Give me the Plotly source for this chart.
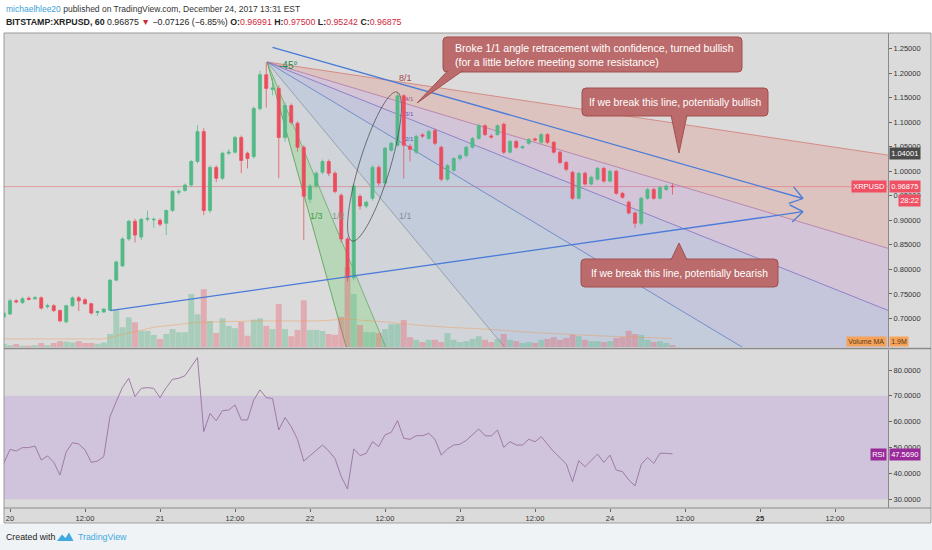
import numpy as np
import plotly.graph_objects as go

# one candle per hour, hour 0 = Dec 20 00:00
HOURS = list(range(-1, 107))

OPEN = [0.703, 0.709, 0.736, 0.732, 0.741, 0.740, 0.742, 0.724, 0.726, 0.716,
        0.693, 0.726, 0.742, 0.738, 0.730, 0.712, 0.713, 0.717, 0.778, 0.807,
        0.862, 0.898, 0.866, 0.902, 0.901, 0.900, 0.894, 0.920, 0.957, 0.961,
        0.972, 1.020, 1.081, 0.920, 1.008, 0.986, 1.037, 1.039, 1.069, 1.037,
        1.030, 1.128, 1.197, 1.167, 1.169, 1.069, 1.134, 1.098, 1.049, 0.943,
        0.970, 0.998, 1.020, 0.996, 0.951, 0.862, 0.783, 0.949, 0.929, 0.945,
        1.008, 0.976, 1.043, 1.053, 1.154, 1.051, 1.039, 1.074, 1.067, 1.083,
        1.049, 0.984, 1.002, 1.026, 1.032, 1.049, 1.067, 1.093, 1.072, 1.075,
        1.096, 1.039, 1.061, 1.048, 1.057, 1.066, 1.059, 1.075, 1.059, 1.039,
        1.018, 0.998, 0.945, 0.996, 0.974, 0.984, 1.006, 0.980, 1.000, 0.955,
        0.937, 0.915, 0.894, 0.945, 0.963, 0.945, 0.963, 0.96991]
HIGH = [0.714, 0.740, 0.739, 0.744, 0.745, 0.746, 0.745, 0.730, 0.729, 0.718,
        0.728, 0.745, 0.746, 0.741, 0.732, 0.716, 0.721, 0.780, 0.818, 0.866,
        0.901, 0.903, 0.905, 0.920, 0.906, 0.904, 0.922, 0.962, 0.963, 0.975,
        1.023, 1.094, 1.088, 1.012, 1.012, 1.040, 1.045, 1.072, 1.073, 1.040,
        1.132, 1.205, 1.222, 1.190, 1.175, 1.140, 1.138, 1.102, 1.053, 0.974,
        1.000, 1.024, 1.024, 1.000, 0.955, 0.866, 0.975, 0.953, 0.940, 1.012,
        1.012, 1.050, 1.060, 1.160, 1.157, 1.055, 1.075, 1.078, 1.085, 1.087,
        1.052, 1.015, 1.029, 1.035, 1.052, 1.070, 1.097, 1.096, 1.076, 1.096,
        1.099, 1.064, 1.064, 1.053, 1.068, 1.069, 1.078, 1.078, 1.062, 1.042,
        1.021, 1.001, 0.999, 0.999, 0.991, 1.009, 1.009, 1.003, 1.003, 0.958,
        0.940, 0.918, 0.948, 0.966, 0.966, 0.970, 0.973, 0.97500]
LOW = [0.700, 0.707, 0.731, 0.730, 0.737, 0.738, 0.718, 0.720, 0.713, 0.692,
       0.690, 0.724, 0.715, 0.728, 0.708, 0.705, 0.711, 0.715, 0.776, 0.805,
       0.858, 0.855, 0.860, 0.898, 0.885, 0.888, 0.870, 0.917, 0.952, 0.958,
       0.968, 1.016, 0.911, 0.915, 0.978, 0.982, 1.033, 1.036, 0.996, 1.006,
       1.026, 1.124, 1.130, 1.155, 0.986, 1.060, 1.095, 1.040, 0.860, 0.935,
       0.965, 0.994, 0.990, 0.955, 0.855, 0.775, 0.778, 0.922, 0.925, 0.940,
       0.970, 0.972, 1.040, 1.050, 0.985, 1.020, 1.035, 1.068, 1.064, 1.053,
       0.980, 0.980, 0.999, 1.022, 1.029, 1.046, 1.064, 1.072, 1.066, 1.072,
       1.035, 1.036, 1.046, 1.045, 1.054, 1.061, 1.056, 1.056, 1.036, 1.015,
       1.000, 0.942, 0.942, 0.971, 0.971, 0.981, 0.977, 0.977, 0.952, 0.944,
       0.912, 0.885, 0.890, 0.942, 0.942, 0.942, 0.960, 0.95242]
CLOSE = [0.711, 0.736, 0.734, 0.740, 0.739, 0.742, 0.721, 0.726, 0.716, 0.695,
         0.726, 0.742, 0.736, 0.730, 0.711, 0.714, 0.719, 0.778, 0.815, 0.862,
         0.898, 0.870, 0.902, 0.904, 0.902, 0.892, 0.920, 0.959, 0.959, 0.972,
         1.020, 1.081, 0.920, 1.008, 0.986, 1.037, 1.039, 1.069, 1.022, 1.026,
         1.128, 1.197, 1.169, 1.170, 1.069, 1.134, 1.100, 1.049, 0.949, 0.970,
         0.996, 1.020, 0.996, 0.959, 0.862, 0.783, 0.970, 0.929, 0.937, 1.008,
         0.976, 1.047, 1.057, 1.154, 1.053, 1.045, 1.071, 1.072, 1.081, 1.057,
         0.984, 1.012, 1.026, 1.032, 1.049, 1.067, 1.093, 1.075, 1.070, 1.093,
         1.039, 1.061, 1.049, 1.050, 1.065, 1.064, 1.075, 1.059, 1.039, 1.018,
         1.004, 0.945, 0.996, 0.974, 0.988, 1.006, 0.980, 1.000, 0.955, 0.947,
         0.915, 0.894, 0.945, 0.963, 0.945, 0.967, 0.970, 0.96875]

# volume in millions XRP
VOLUME_M = [0.7, 0.4, 0.7, 0.3, 0.3, 0.4, 0.9, 0.4, 0.9, 1.3,
            1.2, 1.0, 1.3, 0.9, 0.9, 0.7, 1.0, 2.9, 8.4, 4.4,
            6.6, 5.5, 3.6, 3.6, 2.7, 1.8, 2.9, 4.0, 3.3, 3.3,
            11.8, 7.3, 12.9, 5.8, 3.1, 6.4, 4.7, 4.2, 5.6, 2.5,
            6.1, 6.4, 4.7, 4.0, 9.6, 4.0, 2.4, 3.8, 10.4, 3.8,
            3.8, 3.6, 2.9, 2.7, 6.7, 17.8, 11.8, 4.9, 3.3, 3.3,
            3.1, 4.0, 5.1, 5.1, 6.0, 2.2, 1.6, 1.1, 1.6, 1.6,
            1.1, 3.1, 1.6, 1.1, 1.3, 1.8, 2.4, 1.6, 1.1, 1.8,
            2.9, 1.6, 1.3, 0.9, 1.1, 0.9, 1.6, 1.8, 2.2, 1.6,
            2.0, 2.7, 2.4, 1.6, 1.3, 1.3, 1.1, 1.3, 2.0, 2.2,
            3.6, 2.9, 2.7, 1.6, 1.1, 1.3, 0.9, 0.4]
VOL_MA_HOURS = [-1, 15, 23, 30, 39, 49, 54, 60, 65, 70, 76, 84, 94, 106]
VOL_MA = [1.8, 1.8, 4.4, 5.5, 5.8, 5.8, 6.2, 5.6, 4.9, 4.4, 4.0, 3.2, 2.5, 1.9]

RSI = [43.9, 49.3, 48.7, 50.0, 50.0, 50.6, 45.2, 46.8, 44.3, 39.4,
       48.4, 51.9, 51.4, 49.1, 44.3, 44.8, 46.5, 62.0, 67.8, 73.3,
       76.8, 69.7, 72.9, 73.2, 72.9, 69.3, 73.2, 76.4, 76.8, 77.8,
       81.3, 84.8, 56.2, 63.2, 60.4, 64.3, 64.5, 66.5, 60.7, 60.7,
       68.4, 72.3, 69.3, 69.0, 56.8, 61.6, 58.1, 53.2, 44.8, 46.8,
       49.1, 51.0, 48.7, 45.8, 38.8, 34.0, 49.5, 46.9, 47.8, 52.3,
       50.4, 54.9, 55.9, 60.4, 53.6, 53.2, 54.6, 54.6, 55.5, 53.2,
       47.1, 49.5, 51.0, 51.3, 52.8, 55.1, 57.2, 54.6, 54.5, 56.8,
       50.1, 52.3, 51.0, 51.0, 53.2, 52.3, 54.2, 51.3, 48.4, 46.1,
       43.7, 36.8, 44.9, 42.6, 45.2, 47.5, 44.3, 47.1, 41.3, 40.7,
       37.5, 35.2, 43.5, 46.2, 43.9, 47.8, 47.8, 47.569]

TICK_HOURS = [0, 12, 24, 36, 48, 60, 72, 84, 96, 108, 120, 132]
TICK_TEXT = ["20", "12:00", "21", "12:00", "22", "12:00", "23", "12:00",
             "24", "12:00", "<b>25</b>", "12:00"]
PRICE_TICKS = [0.70, 0.75, 0.80, 0.85, 0.90, 0.95, 1.00, 1.05, 1.10, 1.15, 1.20, 1.25]
RSI_TICKS = [30, 40, 50, 60, 70, 80]

GREEN = "#53b987"
RED = "#eb4d5c"
FONT = "Liberation Sans"


# screen pixel -> chart / paper coordinates (932x550 page)
def hx(px):
    return (px - 10) / 6.25


def pr(py):
    return 1 + (171.3 - py) / 490.4


def fx(px):
    return (px - 4) / 884


def fy(py):
    return (508 - py) / 475


X_RANGE = [hx(4), hx(888)]

fig = go.Figure()

vol_colors = ["rgba(83,185,135,0.38)" if c >= o else "rgba(235,77,92,0.33)"
              for o, c in zip(OPEN, CLOSE)]
fig.add_trace(go.Bar(x=HOURS, y=VOLUME_M, marker_color=vol_colors,
                     marker_line_width=0, xaxis="x", yaxis="y",
                     showlegend=False, hoverinfo="skip"))
fig.add_trace(go.Scatter(x=VOL_MA_HOURS, y=VOL_MA, mode="lines",
                         line=dict(color="rgba(240,150,80,0.5)", width=0.9),
                         xaxis="x", yaxis="y", showlegend=False))
fig.add_trace(go.Candlestick(
    x=HOURS, open=OPEN, high=HIGH, low=LOW, close=CLOSE,
    xaxis="x", yaxis="y3", showlegend=False,
    increasing=dict(line=dict(color="rgba(83,185,135,0.75)", width=1), fillcolor=GREEN),
    decreasing=dict(line=dict(color="rgba(235,77,92,0.75)", width=1), fillcolor=RED)))
fig.add_trace(go.Scatter(x=HOURS, y=RSI, mode="lines", xaxis="x2", yaxis="y2",
                         line=dict(color="#9a72a0", width=0.9), showlegend=False))

shapes = []

# chart frame and page strips
shapes.append(dict(type="rect", xref="paper", yref="paper", layer="below",
                   x0=fx(4), x1=fx(931), y0=fy(523), y1=fy(33),
                   fillcolor="#dbdbdb", line=dict(color="#9a9a9a", width=1)))
shapes.append(dict(type="rect", xref="paper", yref="paper", layer="below",
                   x0=fx(-2), x1=fx(934), y0=fy(551), y1=fy(524),
                   fillcolor="#eff3f6", line=dict(width=0)))
shapes.append(dict(type="line", xref="paper", yref="paper", layer="above",
                   x0=fx(4), x1=fx(931), y0=fy(348.5), y1=fy(348.5),
                   line=dict(color="#8a8a8a", width=1.5)))
shapes.append(dict(type="line", xref="paper", yref="paper", layer="above",
                   x0=fx(4), x1=fx(931), y0=fy(508), y1=fy(508),
                   line=dict(color="#8a8a8a", width=1)))

# RSI 30-70 band
shapes.append(dict(type="rect", xref="paper", yref="y2", layer="below",
                   x0=0, x1=1, y0=30, y1=70,
                   fillcolor="rgba(160,105,220,0.2)", line=dict(width=0)))

# Gann fan
g_h0, g_p0 = hx(267), pr(62)
g_unit = 1.2 * 6.25 / 490.4
h_far = 400
rays = [1 / 8, 1 / 4, 1 / 3, 1 / 2, 1, 2, 3]
ray_lines = ["#d07a72", "#b27aa8", "#7e72c2", "#5f7fc4", "#8a96a6", "#6aa86a", "#4fa04f"]
ray_fills = ["rgba(230,120,110,0.24)", "rgba(180,115,205,0.22)", "rgba(120,120,225,0.22)",
             "rgba(105,150,215,0.22)", "rgba(150,170,195,0.14)", "rgba(80,200,80,0.25)"]


def ray_end(r):
    return h_far, g_p0 - r * g_unit * (h_far - g_h0)


for i in range(len(rays) - 1):
    a, b = ray_end(rays[i]), ray_end(rays[i + 1])
    shapes.append(dict(type="path", xref="x", yref="y3", layer="below",
                       path=f"M {g_h0},{g_p0} L {a[0]},{a[1]} L {b[0]},{b[1]} Z",
                       fillcolor=ray_fills[i], line=dict(width=0)))
for r, col in zip(rays, ray_lines):
    e = ray_end(r)
    shapes.append(dict(type="line", xref="x", yref="y3", layer="below",
                       x0=g_h0, y0=g_p0, x1=e[0], y1=e[1],
                       line=dict(color=col, width=0.8)))

# last price line
shapes.append(dict(type="line", xref="paper", yref="y3", layer="below",
                   x0=0, x1=1, y0=CLOSE[-1], y1=CLOSE[-1],
                   line=dict(color="rgba(235,77,92,0.45)", width=1)))

# trend lines with open arrow heads
BLUE = "#4a7bd8"
for p0, p1, arms in [((272.5, 47.3), (803, 198.5), [(788.8, 203.3), (793.6, 186.8)]),
                     ((110, 310.7), (803, 211.7), [(792.1, 222.0), (789.6, 204.9)])]:
    shapes.append(dict(type="line", xref="x", yref="y3", layer="above",
                       x0=hx(p0[0]), y0=pr(p0[1]), x1=hx(p1[0]), y1=pr(p1[1]),
                       line=dict(color=BLUE, width=1.3)))
    for ax_, ay_ in arms:
        shapes.append(dict(type="line", xref="paper", yref="paper", layer="above",
                           x0=fx(p1[0]), y0=fy(p1[1]), x1=fx(ax_), y1=fy(ay_),
                           line=dict(color=BLUE, width=1.3)))

# hand drawn ellipse around the rebound
t = np.linspace(0, 2 * np.pi, 73)
cx, cy, sa, sb, ux, uy = 374.5, 166.5, 77.8, 15.5, 0.289, -0.957
ex = cx + sa * np.cos(t) * ux - sb * np.sin(t) * uy
ey = cy + sa * np.cos(t) * uy + sb * np.sin(t) * ux
ell = "M " + " L ".join(f"{fx(a):.5f},{fy(b):.5f}" for a, b in zip(ex, ey)) + " Z"
shapes.append(dict(type="path", xref="paper", yref="paper", layer="above",
                   path=ell, line=dict(color="#444444", width=0.7)))

# callouts
BOX_FILL, BOX_LINE = "#bb6b6b", "#a14f4f"


def rounded_box(x0, y0, x1, y1, r=4):
    return (f"M {fx(x0 + r)},{fy(y0)} L {fx(x1 - r)},{fy(y0)} "
            f"Q {fx(x1)},{fy(y0)} {fx(x1)},{fy(y0 + r)} L {fx(x1)},{fy(y1 - r)} "
            f"Q {fx(x1)},{fy(y1)} {fx(x1 - r)},{fy(y1)} L {fx(x0 + r)},{fy(y1)} "
            f"Q {fx(x0)},{fy(y1)} {fx(x0)},{fy(y1 - r)} L {fx(x0)},{fy(y0 + r)} "
            f"Q {fx(x0)},{fy(y0)} {fx(x0 + r)},{fy(y0)} Z")


callouts = [((443, 37, 742, 72), ((448, 70.5), (417, 103), (463, 70.5))),
            ((582, 88, 768, 116), ((671, 115), (679, 153), (687, 115))),
            ((581, 259, 778, 287), ((671, 260), (679, 243), (687, 260)))]
for box, tri in callouts:
    shapes.append(dict(type="path", xref="paper", yref="paper", layer="above",
                       path=rounded_box(*box), fillcolor=BOX_FILL,
                       line=dict(color=BOX_LINE, width=1)))
    tri_path = "M " + " L ".join(f"{fx(a)},{fy(b)}" for a, b in tri)
    shapes.append(dict(type="path", xref="paper", yref="paper", layer="above",
                       path=tri_path, fillcolor=BOX_FILL,
                       line=dict(color=BOX_LINE, width=1)))

# TradingView logo
shapes.append(dict(type="path", xref="paper", yref="paper", layer="above",
                   path=(f"M {fx(57)},{fy(541)} L {fx(62)},{fy(534.5)} L {fx(65.5)},{fy(538)} "
                         f"L {fx(69)},{fy(532.5)} L {fx(73.5)},{fy(541)} Z"),
                   fillcolor="#3fa9e0", line=dict(width=0)))

ann = []


def label(px, py, text, size=9, color="#333", xanchor="left", **kw):
    ann.append(dict(xref="paper", yref="paper", x=fx(px), y=fy(py), text=text,
                    showarrow=False, xanchor=xanchor, yanchor="middle",
                    font=dict(family=FONT, size=size, color=color), **kw))


R = "#d0283a"
label(4, 8.5, "<span style='color:#3d9fd6'>michaelhlee20</span> published on "
      "TradingView.com, December 24, 2017 13:31 EST", size=8.5)
label(4, 22, "<b>BITSTAMP:XRPUSD, 60</b> 0.96875 "
      f"<span style='color:{R}'>▼</span> −0.07126 (−6.85%) "
      f"<b>O:</b><span style='color:{R}'>0.96991</span> "
      f"<b>H:</b><span style='color:{R}'>0.97500</span> "
      f"<b>L:</b><span style='color:{R}'>0.95242</span> "
      f"<b>C:</b><span style='color:{R}'>0.96875</span>", size=8.8, color="#222")

label(453, 54.5, "Broke 1/1 angle retracement with confidence, turned bullish<br>"
      "(for a little before meeting some resistance)", size=10.6, color="white", align="left")
label(675, 102, "If we break this line, potentially bullish", size=10.3,
      color="white", xanchor="center")
label(679.5, 273, "If we break this line, potentially bearish", size=10.3,
      color="white", xanchor="center")

# fan labels
label(288, 65, "-45°", size=10, color="#1f8a4f", xanchor="center")
label(405, 78, "8/1", size=9, color="#a84848", xanchor="center")
label(409, 99, "4/1", size=6, color="#a0508a", xanchor="center")
label(409, 114, "3/1", size=6, color="#6a50b0", xanchor="center")
label(409, 139, "2/1", size=6, color="#4060b0", xanchor="center")
label(405, 216, "1/1", size=9, color="#8a8f9a", xanchor="center")
label(338, 216, "1/2", size=9, color="#7f9f7f", xanchor="center")
label(316, 216, "1/3", size=9, color="#3f9f3f", xanchor="center")

# axis side labels
label(889, 153, "1.04001", size=7.5, color="white", bgcolor="#4b4b4b", borderpad=1.2)
label(887, 186.5, "XRPUSD", size=7.5, color="white", xanchor="right", bgcolor="#ef5064", borderpad=1.2)
label(889, 186.5, "0.96875", size=7.5, color="white", bgcolor="#ef5064", borderpad=1.2)
label(898, 200.5, "28:22", size=7.5, color="white", bgcolor="#ef5064", borderpad=1.2)
label(887, 342, "Volume MA", size=7, color="#5a3a1a", xanchor="right", bgcolor="#f5a35a", borderpad=1.2)
label(889, 342, "1.9M", size=7, color="#5a3a1a", bgcolor="#f5a35a", borderpad=1.2)
label(887, 454, "RSI", size=7.5, color="white", xanchor="right", bgcolor="#9a2a9a", borderpad=1.2)
label(889, 454, "47.5690", size=7.5, color="white", bgcolor="#9a2a9a", borderpad=1.2)

label(4, 537, "Created with", size=8.8, color="#222")
label(76, 537, "TradingView", size=8.8, color="#3fa9e0")

tickfont = dict(family=FONT, size=7.5, color="#333")
fig.update_layout(
    width=932, height=550,
    margin=dict(l=4, r=44, t=33, b=42),
    paper_bgcolor="white", plot_bgcolor="#dbdbdb",
    bargap=0.05, showlegend=False, hovermode=False,
    xaxis=dict(domain=[0, 1], range=X_RANGE, anchor="y", showticklabels=False,
               showgrid=False, zeroline=False, rangeslider=dict(visible=False)),
    xaxis2=dict(domain=[0, 1], range=X_RANGE, anchor="y2", matches="x",
                tickvals=TICK_HOURS, ticktext=TICK_TEXT, tickfont=tickfont,
                ticks="outside", ticklen=3, tickcolor="#666",
                showgrid=False, zeroline=False),
    yaxis=dict(domain=[fy(347), fy(33)], range=[0, 70], visible=False),
    yaxis3=dict(overlaying="y", anchor="x", side="right", range=[pr(347), pr(33)],
                tickvals=PRICE_TICKS, tickformat=".5f", tickfont=tickfont,
                ticks="outside", ticklen=3, tickcolor="#666",
                showline=True, linecolor="#8a8a8a", showgrid=False, zeroline=False),
    yaxis2=dict(domain=[fy(508), fy(350)], anchor="x2", side="right",
                range=[26.65, 87.73], tickvals=RSI_TICKS, tickformat=".4f",
                tickfont=tickfont, ticks="outside", ticklen=3, tickcolor="#666",
                showline=True, linecolor="#8a8a8a", showgrid=False, zeroline=False),
    shapes=shapes, annotations=ann,
)

# drop the browser's default page margin so the figure sits at the window corner
fig.write_html("out.html", config={"displayModeBar": False},
               post_script="document.body.style.margin = '0';")
